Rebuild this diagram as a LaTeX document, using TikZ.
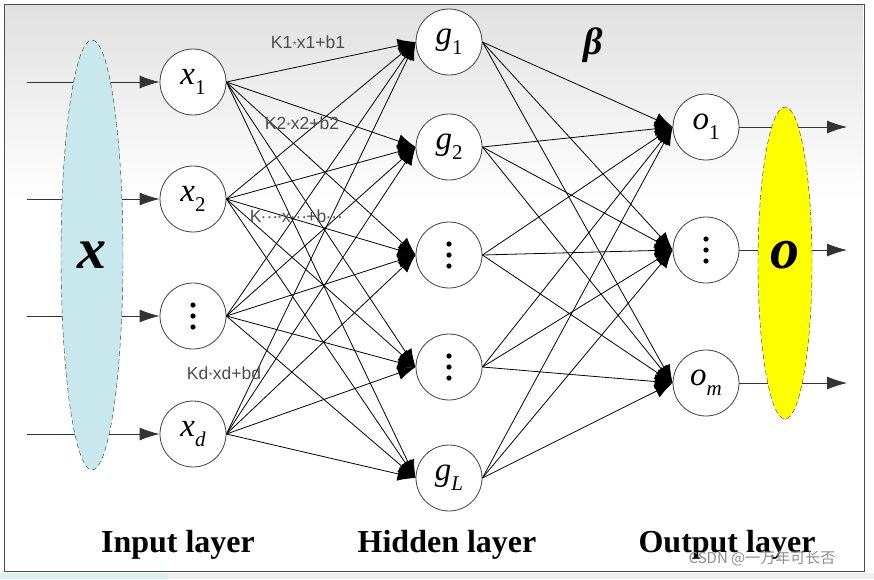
\documentclass[tikz,border=0pt]{standalone}
\usepackage{fontspec}
\setmainfont{Liberation Serif}
\newfontfamily\labfont{Liberation Sans}
\newfontfamily\cjkfont{Noto Sans CJK SC}
\usetikzlibrary{arrows.meta,shapes.geometric}
\definecolor{inblue}{RGB}{200,232,238}
\definecolor{outyellow}{RGB}{255,255,0}
\newcommand\kst{\raisebox{0.15em}{\scalebox{0.55}{$\star$}}}
\newcommand\kdots{\kern-0.05em···\kern-0.05em}
\newcommand\nsub[2]{\textit{#1}\raisebox{-0.3em}{\fontsize{21}{21}\selectfont #2}}

\begin{document}
\begin{tikzpicture}[x=1pt, y=-1pt,
		neuron/.style={circle, draw=black!75, line width=0.8pt, fill=white, minimum size=66pt, inner sep=0pt, font=\fontsize{33}{33}\selectfont},
		wire/.style={line width=0.8pt, -{Latex[length=18pt,width=14pt]}},
		inarrow/.style={line width=0.8pt, black!80, -{Latex[length=20pt,width=13pt]}},
		klab/.style={font=\labfont\fontsize{17.5}{17.5}\selectfont, text=black!70},
		layer/.style={font=\fontsize{32}{32}\selectfont\bfseries, anchor=base},
		bigsym/.style={font=\fontsize{58}{58}\selectfont\bfseries\itshape}]
	\useasboundingbox (0,0) rectangle (874,579);
	% frame and backdrop
	\shade[top color=black!12, bottom color=white] (5,5) rectangle (863,200);
	\draw[black!70, line width=1pt] (4,4) rectangle (864,571);
	\fill[black!6] (0,573) rectangle (874,579);
	\fill[inblue!70] (0,574) rectangle (168,579);
	% neurons
	\node[neuron] (x1) at (193,82) {\nsub{x}{1}};
	\node[neuron] (x2) at (193,199) {\nsub{x}{2}};
	\node[neuron] (x3) at (193,316) {};
	\node[neuron] (x4) at (193,434) {\nsub{x}{\textit{d}}};
	\node[neuron] (h1) at (449,42) {\nsub{g}{1}};
	\node[neuron] (h2) at (449,147) {\nsub{g}{2}};
	\node[neuron] (h3) at (449,255) {};
	\node[neuron] (h4) at (449,367) {};
	\node[neuron] (h5) at (449,478) {\nsub{g}{\textit{L}}};
	\node[neuron] (o1) at (706,127) {\nsub{o}{1}};
	\node[neuron] (o2) at (706,250) {};
	\node[neuron] (o3) at (706,383) {\nsub{o}{\textit{m}}};
	\foreach \n in {x3,h3,h4,o2}
		\foreach \d in {-11,0,11}
			\fill (\n) ++(0,\d) circle (2.6);
	% connections
	\foreach \i in {1,...,4}
		\foreach \j in {1,...,5}
			\draw[wire] (x\i.east) -- (h\j.west);
	\foreach \j in {1,...,5}
		\foreach \k in {1,2,3}
			\draw[wire] (h\j.east) -- (o\k.west);
	\foreach \i/\y in {1/82,2/199,3/316,4/434}{
		\coordinate (in\i) at (27,\y);
		\draw[inarrow] (in\i) -- (x\i);
	}
	\foreach \k/\y in {1/127,2/250,3/383}{
		\coordinate (out\k) at (847,\y);
		\draw[inarrow] (o\k) -- (out\k);
	}
	% input / output vectors
	\node[ellipse, draw=black!80, dashed, dash pattern=on 5pt off 3pt, fill=inblue, minimum width=62pt, minimum height=430pt, inner sep=0pt, bigsym] (X) at (92,255) {x};
	\node[ellipse, draw=black!80, dashed, dash pattern=on 5pt off 3pt, fill=outyellow, minimum width=54pt, minimum height=312pt, inner sep=0pt] (O) at (785,263) {};
	\node[bigsym] (olab) at (785,255) {o};
	% weights
	\node[klab] (k1) at (308,42) {K1\kst x1+b1};
	\node[klab] (k2) at (302,123) {K2\kst x2+b2};
	\node[klab] (k3) at (296,216) {K\kdots\kst x\kdots+b\kdots};
	\node[klab] (k4) at (224,373) {Kd\kst xd+bd};
	\node[font=\fontsize{38}{38}\selectfont\bfseries\itshape] (beta) at (593,45) {β};
	% layer names
	\node[layer] (lin) at (178,552) {Input layer};
	\node[layer] (lhid) at (447,552) {Hidden layer};
	\node[layer] (lout) at (727,552) {Output layer};
	\node[font=\cjkfont\fontsize{15}{15}\selectfont, text=black!45, anchor=base] (wm) at (762,563) {CSDN @一万年可长否};
\end{tikzpicture}
\end{document}
